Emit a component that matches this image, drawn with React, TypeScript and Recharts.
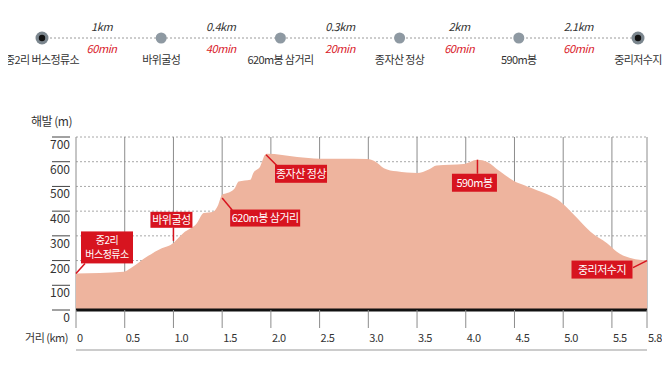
import React from "react";
import {
  ComposedChart,
  Line,
  Area,
  Scatter,
  XAxis,
  YAxis,
  CartesianGrid,
  LabelList,
} from "recharts";

// route summary (top strip)
const stops = ["중2리 버스정류소", "바위굴성", "620m봉 삼거리", "종자산 정상", "590m봉", "중리저수지"];
const legKm = ["1km", "0.4km", "0.3km", "2km", "2.1km"];
const legTime = ["60min", "40min", "20min", "60min", "60min"];

// elevation profile
const distKm = [
  0, 0.49, 0.56, 0.73, 0.88, 0.97, 1.1, 1.24, 1.31, 1.41, 1.46, 1.5, 1.55, 1.63, 1.67, 1.79, 1.82, 1.89,
  1.94, 1.96, 2.27, 2.5, 2.71, 2.99, 3.07, 3.16, 3.29, 3.5, 3.62, 3.7, 3.98, 4.12, 4.22, 4.35, 4.49, 4.63,
  4.83, 4.97, 5.11, 5.28, 5.45, 5.55, 5.62, 5.86,
];
const elevM = [
  148, 155, 169, 216, 250, 263, 311, 351, 392, 398, 426, 466, 473, 493, 520, 527, 554, 581, 628, 632, 619,
  612, 612, 611, 601, 574, 561, 554, 568, 585, 591, 608, 599, 561, 523, 500, 469, 439, 385, 317, 270, 236,
  220, 200,
];

// marked places on the profile
const markNames = ["중2리\n버스정류소", "바위굴성", "620m봉 삼거리", "종자산 정상", "590m봉", "중리저수지"];
const markKm = [0, 1.0, 1.5, 1.95, 4.12, 5.86];
const markElev = [148, 280, 453, 628, 608, 200];

const xEnd = 5.86;
const xTicks = [0, 0.5, 1, 1.5, 2, 2.5, 3, 3.5, 4, 4.5, 5, 5.5, xEnd];
const yTicks = [0, 100, 200, 300, 400, 500, 600, 700];

// label box placement relative to the marked point (px)
const markLayout = [
  { dx: 31, dy: -26, w: 52, h: 32, px: 9, py: -10 },
  { dx: -2, dy: -21, w: 42, h: 16, px: 0, py: -13 },
  { dx: 43, dy: 20, w: 70, h: 17, px: 10, py: 12 },
  { dx: 35, dy: 19, w: 52, h: 18, px: 11, py: 11 },
  { dx: -3, dy: 23, w: 45, h: 18, px: 0, py: 14 },
  { dx: -45, dy: 9, w: 61, h: 18, px: -14, py: 7 },
];

const FONT = "'Noto Sans CJK KR', 'Noto Sans', sans-serif";
const RED = "#d7141f";
const FILL = "#eeb49e";

const routeRows: any[] = [];
stops.forEach((s, i) => {
  routeRows.push({ pos: i, stop: 0, name: s });
  if (i < legKm.length) routeRows.push({ pos: i + 0.5, leg: 0, km: legKm[i], time: legTime[i] });
});

const profile = distKm.map((d, i) => ({ km: d, elev: elevM[i] }));
const marks = markNames.map((n, i) => ({ name: n, km: markKm[i], elev: markElev[i] }));

const RouteDot = (p: any) => {
  const { cx, cy, index } = p;
  if (cx == null || cy == null || routeRows[index]?.name == null) return <g />;
  const end = index === 0 || index === routeRows.length - 1;
  if (end)
    return (
      <g>
        <circle cx={cx} cy={cy} r={6.5} fill="#7b868e" />
        <circle cx={cx} cy={cy} r={3.2} fill="#111" />
      </g>
    );
  return <circle cx={cx} cy={cy} r={5.5} fill="#8e99a2" />;
};

const StopName = (p: any) => {
  if (p.value == null) return null;
  return (
    <text x={p.x} y={p.y + 26} textAnchor="middle" fontSize={11} letterSpacing={-0.6} fill="#333" fontFamily={FONT}>
      {p.value}
    </text>
  );
};

const LegKm = (p: any) => {
  if (p.value == null) return null;
  return (
    <text x={p.x} y={p.y - 7} textAnchor="middle" fontSize={11} fontStyle="italic" letterSpacing={-0.4} fill="#333" fontFamily={FONT}>
      {p.value}
    </text>
  );
};

const LegTime = (p: any) => {
  if (p.value == null) return null;
  return (
    <text x={p.x} y={p.y + 15} textAnchor="middle" fontSize={11} fontStyle="italic" letterSpacing={-0.4} fill="#d9202a" fontFamily={FONT}>
      {p.value}
    </text>
  );
};

const MarkShape = (p: any) => {
  const { cx, cy, index, payload } = p;
  const L = markLayout[index];
  if (!L || cx == null) return <g />;
  const bx = cx + L.dx - L.w / 2;
  const by = cy + L.dy - L.h / 2;
  const lines = String(payload.name).split("\n");
  const multi = lines.length > 1;
  const step = 14.5;
  const mid = cy + L.dy;
  const first = mid + (multi ? 3.5 : 4) - ((lines.length - 1) / 2) * step;
  return (
    <g>
      <line x1={cx} y1={cy} x2={cx + L.px} y2={cy + L.py} stroke={RED} strokeWidth={1.5} />
      <rect x={bx} y={by} width={L.w} height={L.h} fill={RED} />
      {lines.map((t, k) => (
        <text
          key={k}
          x={cx + L.dx}
          y={first + k * step}
          textAnchor="middle"
          fontSize={multi ? 10 : 11}
          letterSpacing={-0.5}
          fill="#fff"
          fontFamily={FONT}
        >
          {t}
        </text>
      ))}
    </g>
  );
};

const YTick = (p: any) => {
  const { x, y, payload } = p;
  return (
    <g>
      <line x1={x - 18} x2={x} y1={y} y2={y} stroke="#444" />
      <text x={x} y={y + 12} textAnchor="end" fontSize={12} fill="#333" fontFamily={FONT}>
        {payload.value}
      </text>
    </g>
  );
};

const XTick = (p: any) => {
  const { x, y, payload } = p;
  const v = payload.value;
  const s = v === 0 ? "0" : v > 5.6 ? "5.8" : v.toFixed(1);
  return (
    <text x={x + 1} y={y + 10} textAnchor="start" fontSize={11} letterSpacing={-0.5} fill="#333" fontFamily={FONT}>
      {s}
    </text>
  );
};

const YTitle = (p: any) => {
  const vb = p.viewBox || {};
  return (
    <text x={vb.x + vb.width - 4} y={vb.y - 11} textAnchor="end" fontSize={12} letterSpacing={-0.5} fill="#333" fontFamily={FONT}>
      해발 (m)
    </text>
  );
};

const XTitle = (p: any) => {
  const vb = p.viewBox || {};
  return (
    <text x={vb.x - 8} y={vb.y + 32} textAnchor="end" fontSize={11} letterSpacing={-0.5} fill="#333" fontFamily={FONT}>
      거리 (km)
    </text>
  );
};

export default function App() {
  return (
    <div style={{ position: "relative", width: 670, height: 365, margin: -8, background: "#fff", fontFamily: FONT }}>
      {/* route strip */}
      <div style={{ position: "absolute", left: 0, top: 0 }}>
        <ComposedChart width={670} height={80} data={routeRows} margin={{ top: 20, right: 32, bottom: 42, left: 42 }}>
          <XAxis dataKey="pos" type="number" domain={[0, 5]} hide />
          <YAxis domain={[0, 1]} hide />
          <Line
            dataKey="stop"
            connectNulls
            stroke="#9a9a9a"
            strokeDasharray="2 2"
            strokeWidth={1}
            dot={RouteDot}
            activeDot={false}
            isAnimationActive={false}
          >
            <LabelList dataKey="name" content={StopName} />
          </Line>
          <Line dataKey="leg" stroke="none" dot={false} activeDot={false} isAnimationActive={false}>
            <LabelList dataKey="km" content={LegKm} />
            <LabelList dataKey="time" content={LegTime} />
          </Line>
        </ComposedChart>
      </div>

      {/* elevation profile */}
      <div style={{ position: "absolute", left: 0, top: 80 }}>
        <ComposedChart width={670} height={285} data={profile} margin={{ top: 57, right: 23, bottom: 14, left: 0 }}>
          <Area dataKey="elev" type="monotone" fill={FILL} fillOpacity={1} stroke="none" isAnimationActive={false} />
          <CartesianGrid vertical={false} strokeDasharray="2 2" stroke="#a8a8a8" />
          <CartesianGrid horizontal={false} stroke="#8c8c8c" />
          <XAxis
            dataKey="km"
            type="number"
            domain={[0, xEnd]}
            ticks={xTicks}
            height={40}
            tickSize={18}
            tickMargin={4}
            tickLine={{ stroke: "#8c8c8c" }}
            axisLine={{ stroke: "#111", strokeWidth: 3 }}
            tick={XTick}
            label={<XTitle />}
          />
          <XAxis
            xAxisId="base"
            dataKey="km"
            type="number"
            domain={[0, xEnd]}
            height={1}
            tick={false}
            tickLine={false}
            axisLine={{ stroke: "#999" }}
          />
          <YAxis
            type="number"
            domain={[0, 700]}
            ticks={yTicks}
            width={76}
            tickSize={0}
            tickMargin={6}
            tickLine={false}
            axisLine={false}
            tick={YTick}
            label={<YTitle />}
          />
          <Scatter data={marks} dataKey="elev" shape={MarkShape} isAnimationActive={false} />
        </ComposedChart>
      </div>
    </div>
  );
}
